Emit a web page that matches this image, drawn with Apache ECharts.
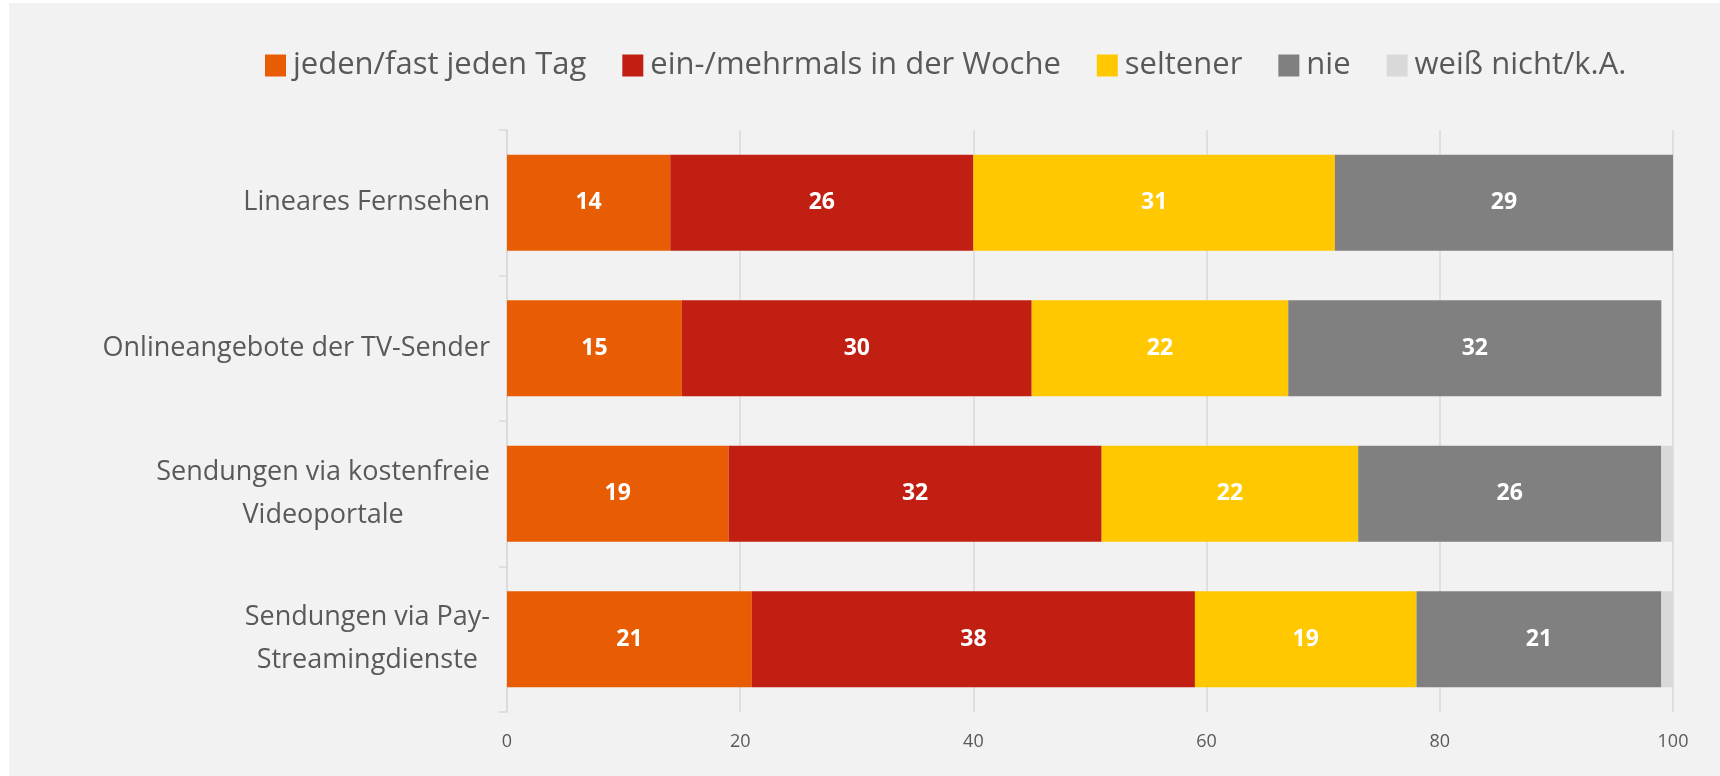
<!DOCTYPE html>
<html>
<head>
<meta charset="utf-8">
<script src="https://cdn.jsdelivr.net/npm/echarts@6/dist/echarts.min.js"></script>
<style>
	html, body { margin: 0; padding: 0; background: #ffffff; }
	#chart { position: absolute; left: 9px; top: 3px; width: 1711px; height: 773px; background: #f2f2f2; }
</style>
</head>
<body>
<div id="chart"></div>
<script>
// Kategorien (von oben nach unten)
var categories = ['Lineares Fernsehen', 'Onlineangebote der TV-Sender', 'Sendungen via kostenfreie\nVideoportale', 'Sendungen via Pay-\nStreamingdienste']
var seriesNames = ['jeden/fast jeden Tag', 'ein-/mehrmals in der Woche', 'seltener', 'nie', 'weiß nicht/k.A.']
var dailyValues = [14, 15, 19, 21]
var weeklyValues = [26, 30, 32, 38]
var rarerValues = [31, 22, 22, 19]
var neverValues = [29, 32, 26, 21]
var unknownValues = [0, 0, 1, 1]
var xTicks = [0, 20, 40, 60, 80, 100]
var colors = ['#e85d04', '#c01f12', '#ffc800', '#808080', '#d9d9d9']

var chart = echarts.init(document.getElementById('chart'))

var allValues = [dailyValues, weeklyValues, rarerValues, neverValues, unknownValues]

var series = allValues.map((vals, i) => {
	return {
		name: seriesNames[i],
		type: 'bar',
		stack: 'total',
		barWidth: '66%',
		data: vals,
		itemStyle: { color: colors[i] },
		label: {
			show: i < 4,
			position: 'inside',
			color: '#ffffff',
			fontWeight: 'bold',
			fontSize: 23,
			fontFamily: 'Open Sans',
		},
		emphasis: { disabled: true },
	}
})

var option = {
	animation: false,
	textStyle: { fontFamily: 'Open Sans' },
	legend: {
		top: 42,
		left: 251,
		itemWidth: 21,
		itemHeight: 22,
		itemGap: 36,
		icon: 'rect',
		textStyle: { fontSize: 31, color: '#595959', fontFamily: 'Open Sans', padding: [0, 0, 0, 2] },
		data: seriesNames,
	},
	grid: {
		left: 498,
		right: 47,
		top: 127,
		bottom: 64,
	},
	xAxis: {
		type: 'value',
		min: 0,
		max: 100,
		interval: 20,
		axisLine: { show: false },
		axisTick: { show: false },
		splitLine: { show: true, lineStyle: { color: '#d9d9d9', width: 1.5 } },
		axisLabel: {
			color: '#595959',
			fontSize: 18,
			margin: 21,
			formatter: (v) => (xTicks.indexOf(v) >= 0 ? String(v) : ''),
		},
	},
	yAxis: {
		type: 'category',
		inverse: true,
		data: categories,
		axisLine: { show: true, lineStyle: { color: '#d9d9d9', width: 1.5 } },
		axisTick: { show: true, length: 8, lineStyle: { color: '#d9d9d9', width: 1.5 } },
		axisLabel: {
			margin: 17,
			align: 'right',
			// mehrzeilige Beschriftungen zentriert untereinander
			formatter: (v) => v.split('\n').map((s) => '{a|' + s + '}').join('\n'),
			rich: {
				a: {
					color: '#595959',
					fontSize: 27,
					lineHeight: 43,
					align: 'center',
					fontFamily: 'Open Sans',
				},
			},
		},
	},
	series: series,
}

chart.setOption(option)
</script>
</body>
</html>
